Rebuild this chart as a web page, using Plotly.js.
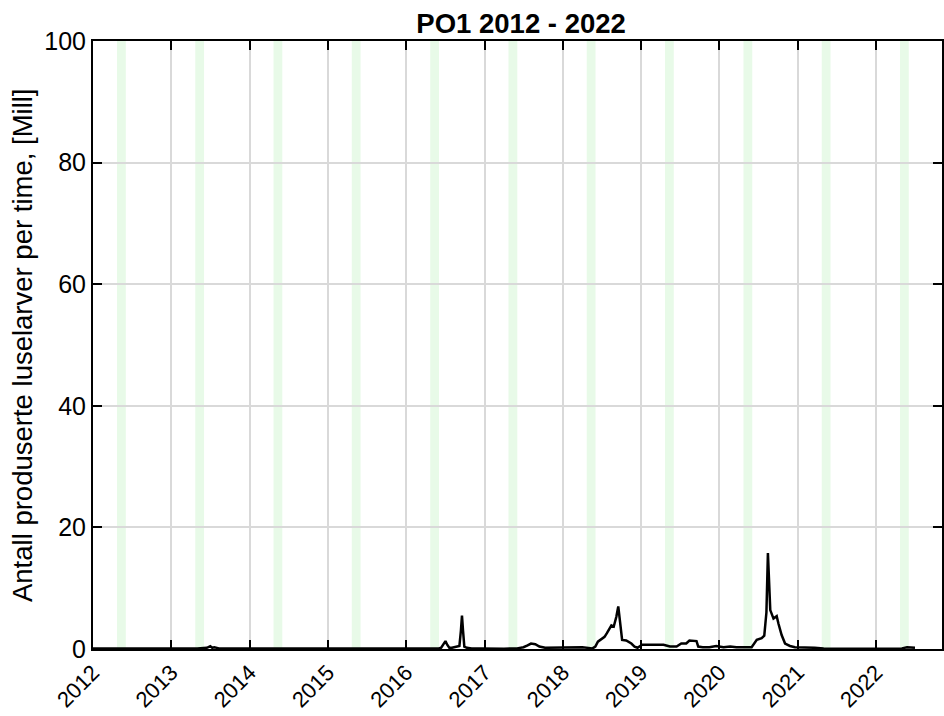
<!DOCTYPE html>
<html>
<head>
<meta charset="utf-8">
<script src="https://cdn.plot.ly/plotly-3.0.1.min.js"></script>
<style>html,body{margin:0;padding:0;background:#fff;}#chart{width:944px;height:716px;}</style>
</head>
<body>
<div id="chart"></div>
<script>
// Series: produced lice larvae per hour (millions), PO1
const dates = [
  '2012-01-01','2012-03-01','2012-05-01','2012-07-01','2012-09-01','2012-11-01',
  '2013-01-01','2013-03-01','2013-05-01','2013-06-15','2013-07-01','2013-07-10','2013-07-20','2013-08-10','2013-10-01','2013-12-01',
  '2014-02-01','2014-04-01','2014-06-01','2014-08-01','2014-10-01','2014-12-01',
  '2015-02-01','2015-04-01','2015-06-01','2015-08-01','2015-10-01','2015-12-01',
  '2016-02-01','2016-04-01','2016-06-01','2016-06-12','2016-06-24','2016-07-02','2016-07-10','2016-07-20','2016-08-01','2016-08-20',
  '2016-09-05','2016-09-12','2016-09-17','2016-09-22','2016-09-28','2016-10-10','2016-11-01','2016-12-15',
  '2017-02-01','2017-04-01','2017-06-01','2017-07-01','2017-07-20','2017-08-05','2017-08-25','2017-09-13','2017-10-10','2017-12-01',
  '2018-02-01','2018-04-01','2018-05-19','2018-06-01','2018-06-13','2018-06-28','2018-07-14','2018-07-25','2018-08-07','2018-08-15',
  '2018-08-26','2018-09-07','2018-09-16','2018-09-25','2018-10-04','2018-10-23','2018-11-16','2018-12-01','2018-12-15',
  '2019-01-05','2019-02-10','2019-03-15','2019-04-15','2019-05-15','2019-06-15','2019-07-07','2019-07-30','2019-08-14','2019-09-01',
  '2019-09-16','2019-09-24','2019-10-15','2019-11-15','2019-12-17',
  '2020-01-20','2020-02-20','2020-03-20','2020-04-20','2020-05-15','2020-05-30','2020-06-23','2020-07-16','2020-07-28','2020-08-07',
  '2020-08-14','2020-08-20','2020-08-25','2020-09-09','2020-09-24','2020-10-02','2020-10-17','2020-11-02','2020-11-25','2020-12-18',
  '2021-01-15','2021-02-15','2021-03-20','2021-05-01','2021-07-01','2021-09-01','2021-11-01',
  '2022-01-01','2022-03-01','2022-05-01','2022-05-25','2022-06-15','2022-07-01'
];
const lice = [
  0.1,0.1,0.05,0.1,0.1,0.15,
  0.1,0.1,0.1,0.2,0.45,0.2,0.3,0.1,0.1,0.1,
  0.05,0.05,0.05,0.1,0.1,0.1,
  0.05,0.05,0.05,0.1,0.1,0.1,
  0.1,0.1,0.1,0.2,0.9,1.3,0.7,0.2,0.2,0.3,
  0.5,3.0,5.5,3.0,0.4,0.2,0.1,0.1,
  0.05,0.05,0.1,0.3,0.6,0.9,0.8,0.4,0.2,0.2,
  0.3,0.3,0.1,0.4,1.2,1.6,2.0,2.6,3.4,3.9,
  3.7,5.3,7.0,3.7,1.5,1.4,0.9,0.4,0.2,
  0.7,0.7,0.6,0.7,0.4,0.4,0.9,0.9,1.4,1.4,
  1.3,0.4,0.3,0.3,0.5,
  0.3,0.4,0.3,0.3,0.3,0.3,1.5,1.8,2.2,6.0,
  15.8,11.0,6.4,5.0,5.4,4.2,2.3,0.9,0.5,0.3,
  0.3,0.3,0.2,0.1,0.05,0.05,0.05,
  0.05,0.05,0.1,0.3,0.3,0.2
];
const bandYears = [2012,2013,2014,2015,2016,2017,2018,2019,2020,2021,2022];
const yTicks = [0,20,40,60,80,100];

const shapes = bandYears.map(y => ({
  type:'rect', xref:'x', yref:'paper', x0: y+'-04-22', x1: y+'-06-02', y0:0, y1:1,
  fillcolor:'#e8fae8', line:{width:0}, layer:'below'
}));

const font = {family:'"Liberation Sans", Arial, sans-serif', color:'#000'};

const data = [{
  x: dates, y: lice, type:'scatter', mode:'lines',
  line:{color:'#000', width:2.5}, hoverinfo:'skip'
}];

const layout = {
  width:944, height:716,
  margin:{l:93, r:2, t:41, b:67},
  paper_bgcolor:'#fff', plot_bgcolor:'#fff',
  showlegend:false,
  font: Object.assign({size:22}, font),
  title:{text:'<b>PO1 2012 - 2022</b>', x:0.552, xanchor:'center', y:0.968, yanchor:'middle',
         font:Object.assign({size:27.5}, font)},
  xaxis:{
    type:'date', range:['2012-01-01','2022-11-04'],
    tick0:'2012-01-01', dtick:'M12', tickformat:'%Y', tickangle:-45,
    ticks:'inside', ticklen:9, tickwidth:2, tickcolor:'#000',
    showline:true, linecolor:'#000', linewidth:2, mirror:'ticks',
    showgrid:true, gridcolor:'#d9d9d9', gridwidth:2, zeroline:false,
    tickfont:Object.assign({size:22}, font), automargin:false
  },
  yaxis:{
    range:[0,100], tickvals:yTicks, ticktext:yTicks.map(String),
    ticks:'inside', ticklen:9, tickwidth:2, tickcolor:'#000',
    showline:true, linecolor:'#000', linewidth:2, mirror:'ticks',
    showgrid:true, gridcolor:'#d9d9d9', gridwidth:2, zeroline:false,
    tickfont:Object.assign({size:25}, font), automargin:false
  },
  annotations:[{
    text:'Antall produserte luselarver per time, [Mill]', xref:'paper', yref:'paper',
    x:-0.0836, y:0.5, xanchor:'center', yanchor:'middle', textangle:-90, showarrow:false,
    font:Object.assign({size:27.5}, font)
  }],
  shapes: shapes
};

Plotly.newPlot('chart', data, layout, {displayModeBar:false, staticPlot:true});
</script>
</body>
</html>
